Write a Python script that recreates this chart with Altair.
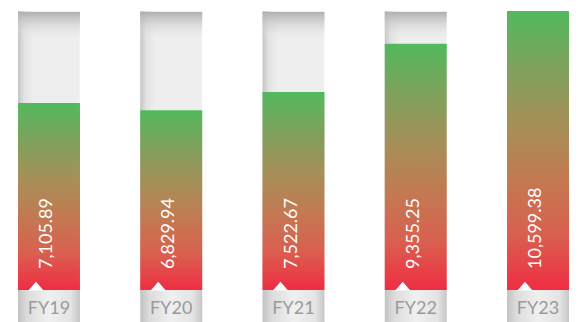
import altair as alt
import pandas as pd

years = ["FY19", "FY20", "FY21", "FY22", "FY23"]
values = [7105.89, 6829.94, 7522.67, 9355.25, 10599.38]
labels = ["7,105.89", "6,829.94", "7,522.67", "9,355.25", "10,599.38"]

df = pd.DataFrame({"fy": years, "value": values, "label": labels})
ymax = max(values)
df["top"] = ymax
df["zero"] = 0.0

W, H = 551, 279

xscale = alt.Scale(paddingInner=0.493, paddingOuter=0)
xenc = alt.X("fy:N", sort=years, axis=None, scale=xscale)
yscale = alt.Scale(domain=[0, ymax], nice=False, zero=True)

def stop(c, o):
    return alt.GradientStop(color=c, offset=o)

bg_h = alt.LinearGradient(gradient="linear", x1=0, y1=0, x2=1, y2=0,
                          stops=[stop("#c4c4c4", 0), stop("#e2e2e2", 0.1),
                                 stop("#eeeeee", 0.25), stop("#eeeeee", 0.97),
                                 stop("#f4f4f4", 1)])
bg_v = alt.LinearGradient(gradient="linear", x1=0, y1=0, x2=0, y2=1,
                          stops=[stop("rgba(176,176,176,1)", 0),
                                 stop("rgba(238,238,238,0)", 1)])
bar_g = alt.LinearGradient(gradient="linear", x1=0, y1=1, x2=0, y2=0,
                           stops=[stop("#ef2d43", 0), stop("#d9604f", 0.2),
                                  stop("#c27a52", 0.4), stop("#a88e58", 0.58),
                                  stop("#7ea25c", 0.8), stop("#52b95d", 1)])
lab_g = alt.LinearGradient(gradient="linear", x1=0, y1=0, x2=1, y2=0,
                           stops=[stop("#c2c2c2", 0), stop("#dcdcdc", 0.15),
                                  stop("#f0f0f0", 0.5), stop("#e4e4e4", 0.85),
                                  stop("#c6c6c6", 1)])

base = alt.Chart(df)

bg = base.mark_bar(fill=bg_h).encode(
    x=xenc, y=alt.Y("top:Q", scale=yscale, axis=None), y2="zero:Q")
bg_top = base.mark_rect(fill=bg_v).encode(
    x=xenc, y=alt.value(1), y2=alt.value(30))
bars = base.mark_bar(fill=bar_g).encode(
    x=xenc, y=alt.Y("value:Q", scale=yscale, axis=None), y2="zero:Q")
lab_box = base.mark_rect(fill=lab_g).encode(
    x=xenc, y=alt.value(H), y2=alt.value(H + 40))
notch = base.mark_point(shape="M-1,0L0,-1.17L1,0Z", filled=True, fill="white",
                        opacity=1, size=230, strokeWidth=0).encode(
    x=alt.X("fy:N", sort=years, axis=None, bandPosition=0.29, scale=xscale),
    y=alt.value(H + 0.5))
fy_text = base.mark_text(font="Lato", fontSize=18, color="#9a9a9a",
                         baseline="middle", align="center").encode(
    x=alt.X("fy:N", sort=years, axis=None, bandPosition=0.5, scale=xscale),
    y=alt.value(H + 19), text="fy:N")
val_text = base.mark_text(font="Lato", fontSize=18, color="white", angle=270,
                          align="left", baseline="middle", dx=21, dy=-2).encode(
    x=alt.X("fy:N", sort=years, axis=None, bandPosition=0.5, scale=xscale),
    y=alt.Y("zero:Q", scale=yscale, axis=None), text="label:N")

chart = alt.layer(bg, bg_top, bars, lab_box, notch, fy_text, val_text).properties(
    width=W, height=H,
    autosize=alt.AutoSizeParams(type="none"),
    padding={"left": 10, "top": 3, "right": 2, "bottom": 32},
    background="white",
).configure_view(stroke=None)

chart.save("out.html", embed_options={"renderer": "svg", "actions": False})
